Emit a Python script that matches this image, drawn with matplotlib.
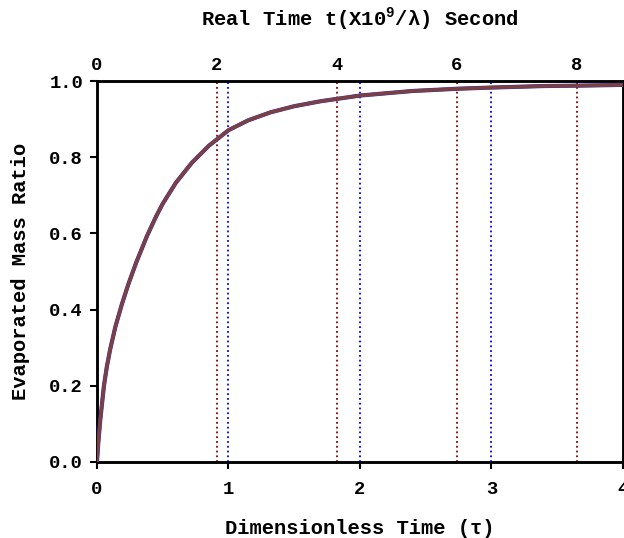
import matplotlib
matplotlib.use("Agg")
import matplotlib.pyplot as plt
import numpy as np

plt.rcParams['font.family'] = ['Liberation Mono', 'DejaVu Sans']
plt.rcParams['font.weight'] = 'bold'
plt.rcParams['mathtext.fontset'] = 'custom'
plt.rcParams['mathtext.rm'] = 'Liberation Mono:bold'

# values
tau = [0, 0.01, 0.025, 0.053, 0.075, 0.1, 0.14, 0.19, 0.24, 0.3, 0.38, 0.45,
       0.5, 0.6, 0.72, 0.85, 1.0, 1.15, 1.32, 1.5, 1.7, 2.0, 2.4, 2.75, 3.0,
       3.4, 3.66, 4.0]
ratio = [0, 0.05, 0.11, 0.2, 0.25, 0.295, 0.355, 0.415, 0.468, 0.525, 0.593, 0.645,
         0.678, 0.733, 0.785, 0.83, 0.871, 0.897, 0.918, 0.934, 0.947, 0.962, 0.974,
         0.98, 0.983, 0.987, 0.988, 0.99]

tau_lines = [1, 2, 3]          # blue dotted, bottom scale
real_lines = [2, 4, 6, 8]      # dark red dotted, top scale
tau_max = 4
real_max = 8.77                # top axis end matching tau = 4

fig = plt.figure(figsize=(6.24, 5.38), dpi=100)
ax = fig.add_axes([0.1554, 0.1413, 0.843, 0.708])
ax2 = ax.twiny()

for v in tau_lines:
    ax.axvline(v, color='blue', ls=':', lw=1.3, zorder=1)
for v in real_lines:
    ax2.axvline(v, color='#8b0000', ls=':', lw=1.3, zorder=1)

ax.plot(tau, ratio, color='#3030c0', lw=3.0, zorder=3)
ax.plot(tau, ratio, color='#7d4040', lw=2.5, zorder=4)
ax.set_zorder(ax2.get_zorder() + 1)
ax.patch.set_visible(False)

ax.set_xlim(0, tau_max)
ax.set_ylim(0, 1.0)
ax2.set_xlim(0, real_max)

ax.set_xticks([0, 1, 2, 3, 4])
ax.set_yticks([0, 0.2, 0.4, 0.6, 0.8, 1.0])
ax.set_yticklabels(['0.0', '0.2', '0.4', '0.6', '0.8', '1.0'])
ax2.set_xticks([0, 2, 4, 6, 8])

ax.tick_params(axis='both', labelsize=13.5, width=1.5, length=5, direction='out')
ax.tick_params(axis='x', pad=9)
ax.tick_params(axis='y', pad=5)
ax2.tick_params(axis='x', labelsize=13.5, length=0, pad=5)

for a in (ax, ax2):
    for s in a.spines.values():
        s.set_linewidth(1.8)

ax.set_xlabel('Dimensionless Time (τ)', fontsize=14.8, fontweight='bold', labelpad=15)
ax.set_ylabel('Evaporated Mass Ratio', fontsize=14.8, fontweight='bold', labelpad=14)
ax2.set_xlabel('Real Time t(X10$^{9}$/λ) Second', fontsize=14.8, fontweight='bold', labelpad=22)

fig.savefig('out.png', dpi=100)
